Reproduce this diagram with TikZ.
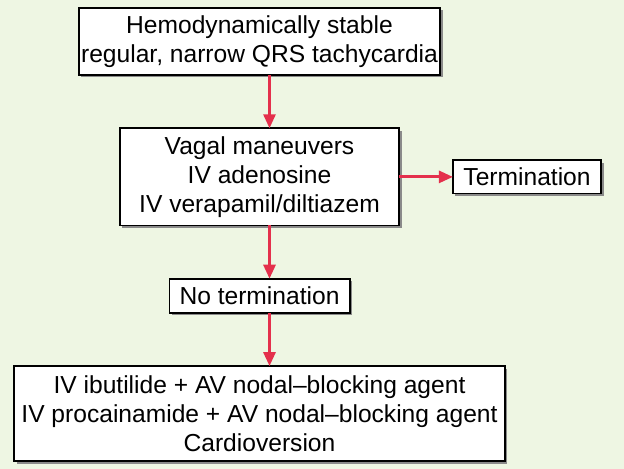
\documentclass[tikz,border=0pt]{standalone}
\usepackage{fontspec}
\setmainfont{Liberation Sans}
\usepackage{xcolor}
\usetikzlibrary{arrows.meta,positioning,shadows}
\definecolor{mintbg}{HTML}{EEF6E3}
\definecolor{flowred}{HTML}{E4304C}
\definecolor{shadegrey}{HTML}{8A8A8A}
\tikzset{
  fbox/.style={draw=black, fill=white, line width=0.9pt, align=center, inner sep=0pt, outer sep=0pt,
    font=\fontsize{12.3}{14.6}\selectfont,
    drop shadow={shadow xshift=1.2pt, shadow yshift=-1.2pt, fill=shadegrey, opacity=1}},
  farrow/.style={-{Triangle[length=7pt, width=6pt]}, line width=1.4pt, flowred},
}
\begin{document}
\begin{tikzpicture}[node distance=26.6pt and 26.9pt]
  \fill[mintbg] (-129.75pt,20.75pt) rectangle (182.25pt,-213.75pt);
  \useasboundingbox (-129.75pt,20.75pt) rectangle (182.25pt,-213.75pt);
  \node[fbox, minimum width=180.6pt, minimum height=33.6pt] (stable) {Hemodynamically stable\\regular, narrow QRS tachycardia};
  \node[fbox, below=of stable, minimum width=139.6pt, minimum height=48.6pt] (vagal) {Vagal maneuvers\\IV adenosine\\IV verapamil/diltiazem};
  \node[fbox, right=of vagal, minimum width=74.1pt, minimum height=16.6pt] (term) {Termination};
  \node[fbox, below=of vagal, minimum width=90.1pt, minimum height=17.1pt] (noterm) {No termination};
  \node[fbox, below=of noterm, minimum width=245.1pt, minimum height=47.6pt] (ibut) {IV ibutilide + AV nodal--blocking agent\\IV procainamide + AV nodal--blocking agent\\Cardioversion};
  \draw[farrow] ([xshift=5pt]stable.south) -- ([xshift=5pt]vagal.north);
  \draw[farrow] (vagal) -- (term);
  \draw[farrow] ([xshift=5pt]vagal.south) -- ([xshift=5pt]noterm.north);
  \draw[farrow] ([xshift=5pt]noterm.south) -- ([xshift=5pt]ibut.north);
\end{tikzpicture}
\end{document}
